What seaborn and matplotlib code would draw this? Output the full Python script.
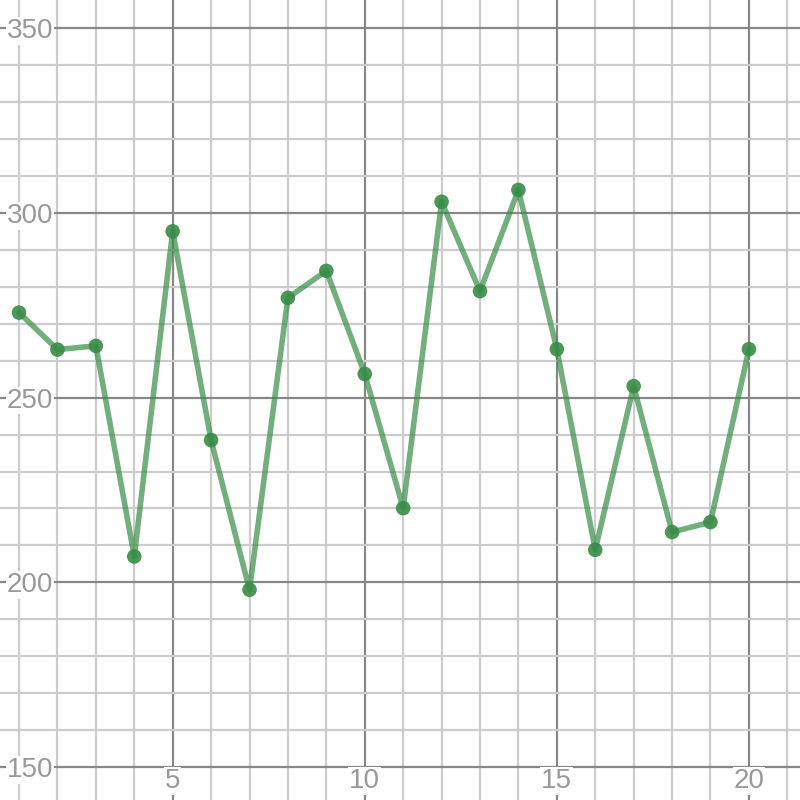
import matplotlib
matplotlib.use("Agg")
import matplotlib.pyplot as plt
import seaborn as sns
import pandas as pd

x_vals = list(range(1, 21))
y_vals = [273, 263, 264, 207, 295, 238.5, 198, 277, 284.3, 256.4,
          220.1, 303, 278.8, 306.2, 263.1, 208.8, 253.1, 213.6, 216.3, 263.1]
x_tick_labels = [5, 10, 15, 20]
y_tick_labels = [150, 200, 250, 300, 350]

df = pd.DataFrame({"x": x_vals, "y": y_vals})

sns.set_style("white")
plt.rcParams['font.family'] = ['Liberation Sans', 'DejaVu Sans']

fig = plt.figure(figsize=(8, 8), dpi=100)
ax = fig.add_axes([0, 0, 1, 1])

xmin, xmax = 0.505, 21.33
ymin, ymax = 141.1, 357.6
ax.set_xlim(xmin, xmax)
ax.set_ylim(ymin, ymax)

# grid
for gx in range(1, 22):
    major = gx % 5 == 0
    ax.axvline(gx, color="#888888" if major else "#cccccc", lw=1.6, zorder=0)
for gy in range(150, 360, 10):
    major = gy % 50 == 0
    ax.axhline(gy, color="#888888" if major else "#cccccc", lw=1.6, zorder=0)

for s in ax.spines.values():
    s.set_visible(False)
ax.set_xticks([])
ax.set_yticks([])

green = "#388c46"
sns.lineplot(data=df, x="x", y="y", ax=ax, color=green, alpha=0.7, lw=4,
             zorder=3, legend=False)
sns.scatterplot(data=df, x="x", y="y", ax=ax, color=green, alpha=0.9, s=110,
                edgecolor="none", zorder=4, legend=False)
ax.set_xlabel("")
ax.set_ylabel("")

bbox = dict(facecolor="white", edgecolor="none", pad=0.5)
for t in y_tick_labels:
    ax.text(0.68, t - 2.7, str(t), ha="left", va="baseline", fontsize=20,
            color="#999999", bbox=bbox, zorder=2)
for t in x_tick_labels:
    ax.text(t, 144.4, str(t), ha="center", va="baseline", fontsize=20,
            color="#999999", bbox=bbox, zorder=2)

fig.savefig("out.png", dpi=100)
